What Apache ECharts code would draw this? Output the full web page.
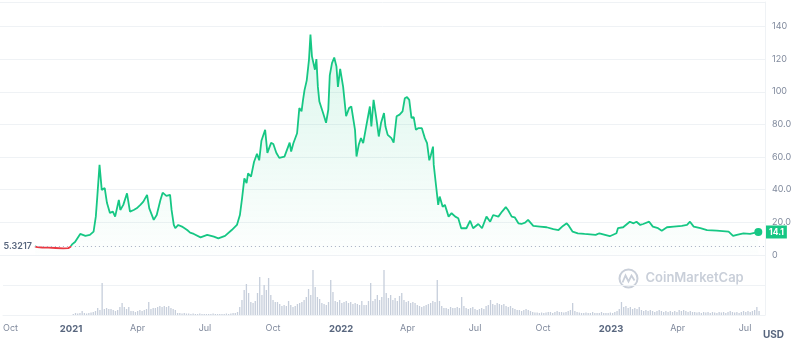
<!DOCTYPE html>
<html><head><meta charset="utf-8">
<script src="https://cdn.jsdelivr.net/npm/echarts@6/dist/echarts.min.js"></script>
<style>html,body{margin:0;padding:0;background:#fff}#c{width:800px;height:357px}</style>
</head><body><div id="c"></div>
<script>
const priceDates = ['2020-11-17','2020-11-20','2020-11-27','2020-12-05','2020-12-15','2020-12-25',
'2021-01-01','2021-01-04','2021-01-06','2021-01-10','2021-01-17','2021-01-24','2021-01-30',
'2021-02-04','2021-02-07','2021-02-09','2021-02-12','2021-02-15','2021-02-19','2021-02-22','2021-02-26',
'2021-03-02','2021-03-05','2021-03-10','2021-03-12','2021-03-16','2021-03-21','2021-03-25','2021-03-30',
'2021-04-03','2021-04-08','2021-04-12','2021-04-17','2021-04-20','2021-04-26','2021-04-30',
'2021-05-05','2021-05-08','2021-05-13','2021-05-18','2021-05-20','2021-05-23','2021-05-25','2021-05-29',
'2021-06-03','2021-06-10','2021-06-14','2021-06-19','2021-06-28',
'2021-07-07','2021-07-16','2021-07-22','2021-07-31',
'2021-08-09','2021-08-16','2021-08-20','2021-08-23','2021-08-26','2021-08-29','2021-08-31',
'2021-09-04','2021-09-08','2021-09-12','2021-09-15','2021-09-18','2021-09-23','2021-09-26',
'2021-10-01','2021-10-04','2021-10-08','2021-10-12','2021-10-19','2021-10-24','2021-10-26','2021-10-28','2021-10-31',
'2021-11-05','2021-11-08','2021-11-11','2021-11-13','2021-11-15','2021-11-18','2021-11-21','2021-11-23','2021-11-25','2021-11-29',
'2021-12-01','2021-12-03','2021-12-05','2021-12-10','2021-12-14','2021-12-17','2021-12-19','2021-12-22','2021-12-25','2021-12-28','2021-12-30',
'2022-01-02','2022-01-06','2022-01-10','2022-01-14','2022-01-17','2022-01-22','2022-01-24','2022-01-27','2022-01-30',
'2022-02-02','2022-02-06','2022-02-11','2022-02-13','2022-02-16','2022-02-20','2022-02-23','2022-02-26',
'2022-03-02','2022-03-04','2022-03-07','2022-03-12','2022-03-15','2022-03-19','2022-03-23','2022-03-27','2022-03-30',
'2022-04-02','2022-04-05','2022-04-08','2022-04-11','2022-04-14','2022-04-17','2022-04-22','2022-04-26','2022-04-29',
'2022-05-02','2022-05-04','2022-05-07','2022-05-08','2022-05-11','2022-05-12','2022-05-14','2022-05-16','2022-05-20','2022-05-23','2022-05-28',
'2022-06-01','2022-06-06','2022-06-10','2022-06-14','2022-06-21','2022-06-26','2022-06-30',
'2022-07-07','2022-07-12','2022-07-18','2022-07-23','2022-07-27',
'2022-08-03','2022-08-08','2022-08-13','2022-08-16','2022-08-21','2022-08-25','2022-08-30',
'2022-09-03','2022-09-08','2022-09-12','2022-09-19','2022-09-28',
'2022-10-07','2022-10-16','2022-10-23','2022-10-29',
'2022-11-03','2022-11-06','2022-11-11','2022-11-18','2022-11-27',
'2022-12-12','2022-12-17','2022-12-31',
'2023-01-09','2023-01-11','2023-01-18','2023-01-27',
'2023-02-01','2023-02-05','2023-02-10','2023-02-14','2023-02-22','2023-02-27',
'2023-03-06','2023-03-11','2023-03-18','2023-03-27',
'2023-04-07','2023-04-14','2023-04-18','2023-04-23',
'2023-05-02','2023-05-11','2023-05-24',
'2023-06-09','2023-06-15','2023-06-20','2023-06-29',
'2023-07-08','2023-07-15','2023-07-19'];
const priceValues = [5.3217,4.8,4.6,4.5,4.3,4.0,
4.2,5.0,6.5,8,12.9,11.7,12.3,
14.3,23.5,35.8,55.2,39.9,41,32,25.8,
26.6,23.5,33.7,27.6,30.7,37.8,26.6,27.6,
28.6,30.7,32.7,36.8,28.6,21.5,24.5,
33.7,38.2,36.2,36.8,27.6,18.4,16.4,18.4,
17.4,15.3,13.7,12.9,10.8,
12.3,11.2,10.2,11.7,
15.3,18.4,24.5,35,47,44,50,
48,57,62,58,70,76.7,62.6,
68.7,68,62.6,59.5,60.3,66.4,68.9,63.4,68.5,
74.6,90,88,95,101,107,119.6,135,121.7,113.5,
120,103,94,87,81,89,110,117.6,121,115.5,103,
114,103,85,90,91,76.7,60.3,67.5,71.6,
68.5,78.7,91,78.7,95,82.8,72.6,80.8,
87,78.7,73.6,71.6,68.9,85,86,88,96,
96.7,95,84,84.5,76.7,77.7,77.7,71.6,68.5,
58,61,66.4,55.2,42.9,44,30.7,35.8,29.6,30.7,23.5,
25.6,23.5,22.5,16.4,16.4,21,16.4,
19,16.4,23.5,20.4,24.5,
23.5,26.6,29.3,27.6,23.5,23.1,19.4,
19,19.8,21.5,17.8,17.4,
17,15.8,15.3,17.8,
19.4,17.8,14.3,13.3,12.9,
12.3,13.3,11.5,
13.3,16.4,17,20.4,
19.4,20.4,18.4,19,20.4,17.4,
16.4,14.9,17,17.4,
17.8,18.4,20.4,17.4,
16.4,15.3,14.9,
14.3,11.7,12.3,13.3,
12.9,13.7,14.1];

// Volume (millions USD), one bar every 3 days starting 2021-01-04
const volumeStart = [2021, 0, 4];
const volumeStepDays = 3;
const volumeValues = [
10,20,15,20,40,20,15,20,25,30,
40,70,50,320,60,70,60,60,50,40,
50,80,120,80,60,80,40,40,30,40,
50,40,50,60,130,60,70,70,80,90,
80,90,80,90,70,60,50,20,20,15,
20,15,15,10,15,10,10,15,10,10,
10,10,10,15,10,10,10,10,10,15,
10,15,20,20,30,80,150,250,310,220,
130,120,140,220,380,200,300,250,370,200,
150,130,130,110,90,100,90,140,100,80,
90,110,120,130,150,180,260,200,450,280,
180,160,120,110,100,130,350,230,140,130,
150,120,130,140,120,130,110,120,110,100,
140,100,100,140,320,140,160,200,150,180,
450,220,170,200,150,170,140,190,220,150,
130,140,120,130,120,100,90,80,90,100,
110,120,140,130,350,140,90,70,70,60,
80,70,70,80,70,180,90,70,60,70,
80,60,50,60,70,60,90,100,150,110,
100,120,110,100,110,90,80,90,70,60,
50,50,40,50,60,50,40,30,25,25,
20,25,20,25,30,30,20,30,40,30,
30,25,30,40,50,120,40,30,25,20,
20,25,20,20,30,20,20,20,30,20,
20,20,25,20,30,40,60,130,80,90,
70,80,60,70,60,80,50,40,50,40,
50,40,30,40,50,40,30,40,30,40,
30,40,30,50,40,50,40,30,40,30,
30,25,30,20,30,25,30,20,30,25,
20,30,25,30,20,30,40,30,25,30,
20,30,40,30,40,30,40,50,80,40];

const xTickDates = ['2020-10-01','2021-01-01','2021-04-01','2021-07-01','2021-10-01','2022-01-01','2022-04-01','2022-07-01','2022-10-01','2023-01-01','2023-04-01','2023-07-01'];
const xTickLabels = ['Oct','2021','Apr','Jul','Oct','2022','Apr','Jul','Oct','2023','Apr','Jul'];
const xMin = '2020-10-01', xMax = '2023-07-28';
const yMax = 155, yInterval = 20;
const startPrice = priceValues[0];
const lastPrice = priceValues[priceValues.length - 1];

function ts(s){ const p = s.split('-').map(Number); return new Date(p[0], p[1]-1, p[2]).getTime(); }
const priceData = priceDates.map((d,i)=>[ts(d), priceValues[i]]);
const volumeData = volumeValues.map((v,i)=>[new Date(volumeStart[0], volumeStart[1], volumeStart[2] + volumeStepDays*i).getTime(), v]);
const xTickValues = xTickDates.map(ts);

const gridColor = '#eff2f5';
const chart = echarts.init(document.getElementById('c'));
chart.setOption({
  animation: false,
  textStyle: {fontFamily: 'Inter'},
  grid: [
    {left: 0, right: 35, top: 2, bottom: 102},
    {left: 0, right: 35, top: 255, bottom: 42}
  ],
  xAxis: [
    {type: 'value', gridIndex: 0, min: ts(xMin), max: ts(xMax),
     axisLine: {show: false}, axisTick: {show: false}, axisLabel: {show: false}, splitLine: {show: false}},
    {type: 'value', gridIndex: 1, min: ts(xMin), max: ts(xMax),
     axisLine: {show: true, lineStyle: {color: gridColor}}, axisTick: {show: false}, splitLine: {show: false},
     axisLabel: {
       customValues: xTickValues, alignMinLabel: 'left', hideOverlap: false,
       color: '#808a9d', fontSize: 9, margin: 9,
       formatter: function (val) {
         let best = 0, bd = Infinity;
         xTickValues.forEach((t, i) => { const d = Math.abs(t - val); if (d < bd) { bd = d; best = i; } });
         const lab = xTickLabels[best];
         return /^\d{4}$/.test(lab) ? '{b|' + lab + '}' : lab;
       },
       rich: {b: {fontWeight: 'bold', color: '#58667e', fontSize: 9.5}}
     }}
  ],
  yAxis: [
    {type: 'value', gridIndex: 0, position: 'right', min: 0, max: yMax, interval: yInterval,
     axisLine: {show: true, lineStyle: {color: gridColor}}, axisTick: {show: false},
     splitLine: {lineStyle: {color: gridColor}},
     axisLabel: {margin: 7, color: '#808a9d', fontSize: 9,
       formatter: v => (v % yInterval !== 0) ? '' : (v >= 100 || v === 0 ? String(v) : v.toFixed(1))}},
    {type: 'value', gridIndex: 1, position: 'right', min: 0, max: 600, interval: 300,
     axisLine: {show: true, lineStyle: {color: gridColor}}, axisTick: {show: false}, axisLabel: {show: false},
     splitLine: {lineStyle: {color: gridColor}}}
  ],
  visualMap: {type: 'piecewise', show: false, seriesIndex: 0, dimension: 1,
    pieces: [{gte: 0, lt: startPrice, color: '#ea3943'}, {gte: startPrice, lte: 1000, color: '#16c784'}],
    outOfRange: {color: '#16c784'}},
  series: [
    {type: 'line', xAxisIndex: 0, yAxisIndex: 0, data: priceData, showSymbol: false,
     lineStyle: {width: 1.8},
     areaStyle: {color: new echarts.graphic.LinearGradient(0, 0, 0, 1, [
       {offset: 0, color: 'rgba(22,199,132,0.22)'}, {offset: 1, color: 'rgba(22,199,132,0.01)'}])},
     markLine: {silent: true, symbol: 'none', animation: false, data: [
       [{coord: [priceData[0][0], startPrice],
         lineStyle: {type: [1, 3], color: '#a6b0c3', width: 1},
         label: {show: true, position: 'start', distance: 3, formatter: String(startPrice),
                 color: '#58667e', fontSize: 9, fontWeight: 600, fontFamily: 'Inter'}},
        {coord: [ts(xMax), startPrice]}]
     ]},
     markPoint: {silent: true, animation: false, data: [
       {coord: priceData[priceData.length - 1], symbol: 'circle', symbolSize: 8,
        itemStyle: {color: '#16c784'}, label: {show: false}},
       {coord: [ts(xMax), lastPrice], symbol: 'rect', symbolSize: 0,
        label: {show: true, position: 'right', distance: 1, formatter: lastPrice.toFixed(1),
                backgroundColor: '#16c784', color: '#fff', fontSize: 8.5, fontWeight: 'bold',
                padding: [2, 3, 2, 3], fontFamily: 'Inter'}}
     ]}
    },
    {type: 'bar', xAxisIndex: 1, yAxisIndex: 1, data: volumeData, barWidth: 1.3, silent: true,
     itemStyle: {color: '#c6cedb'}}
  ],
  graphic: [
    {type: 'group', left: 617, top: 267, silent: true, children: [
      {type: 'circle', shape: {cx: 10, cy: 10, r: 9}, style: {fill: 'none', stroke: '#c9cfd9', lineWidth: 2}},
      {type: 'polyline', shape: {points: [[4, 14], [7, 7], [10, 13], [13, 7], [16, 12]]},
       style: {fill: 'none', stroke: '#c9cfd9', lineWidth: 1.8}},
      {type: 'text', x: 27, y: 3, style: {text: 'CoinMarketCap', font: '600 13px Inter', fill: '#c9cfd9'}}
    ]},
    {type: 'text', left: 763, top: 330, silent: true,
     style: {text: 'USD', font: 'bold 10px Inter', fill: '#58667e'}}
  ]
});
</script></body></html>
